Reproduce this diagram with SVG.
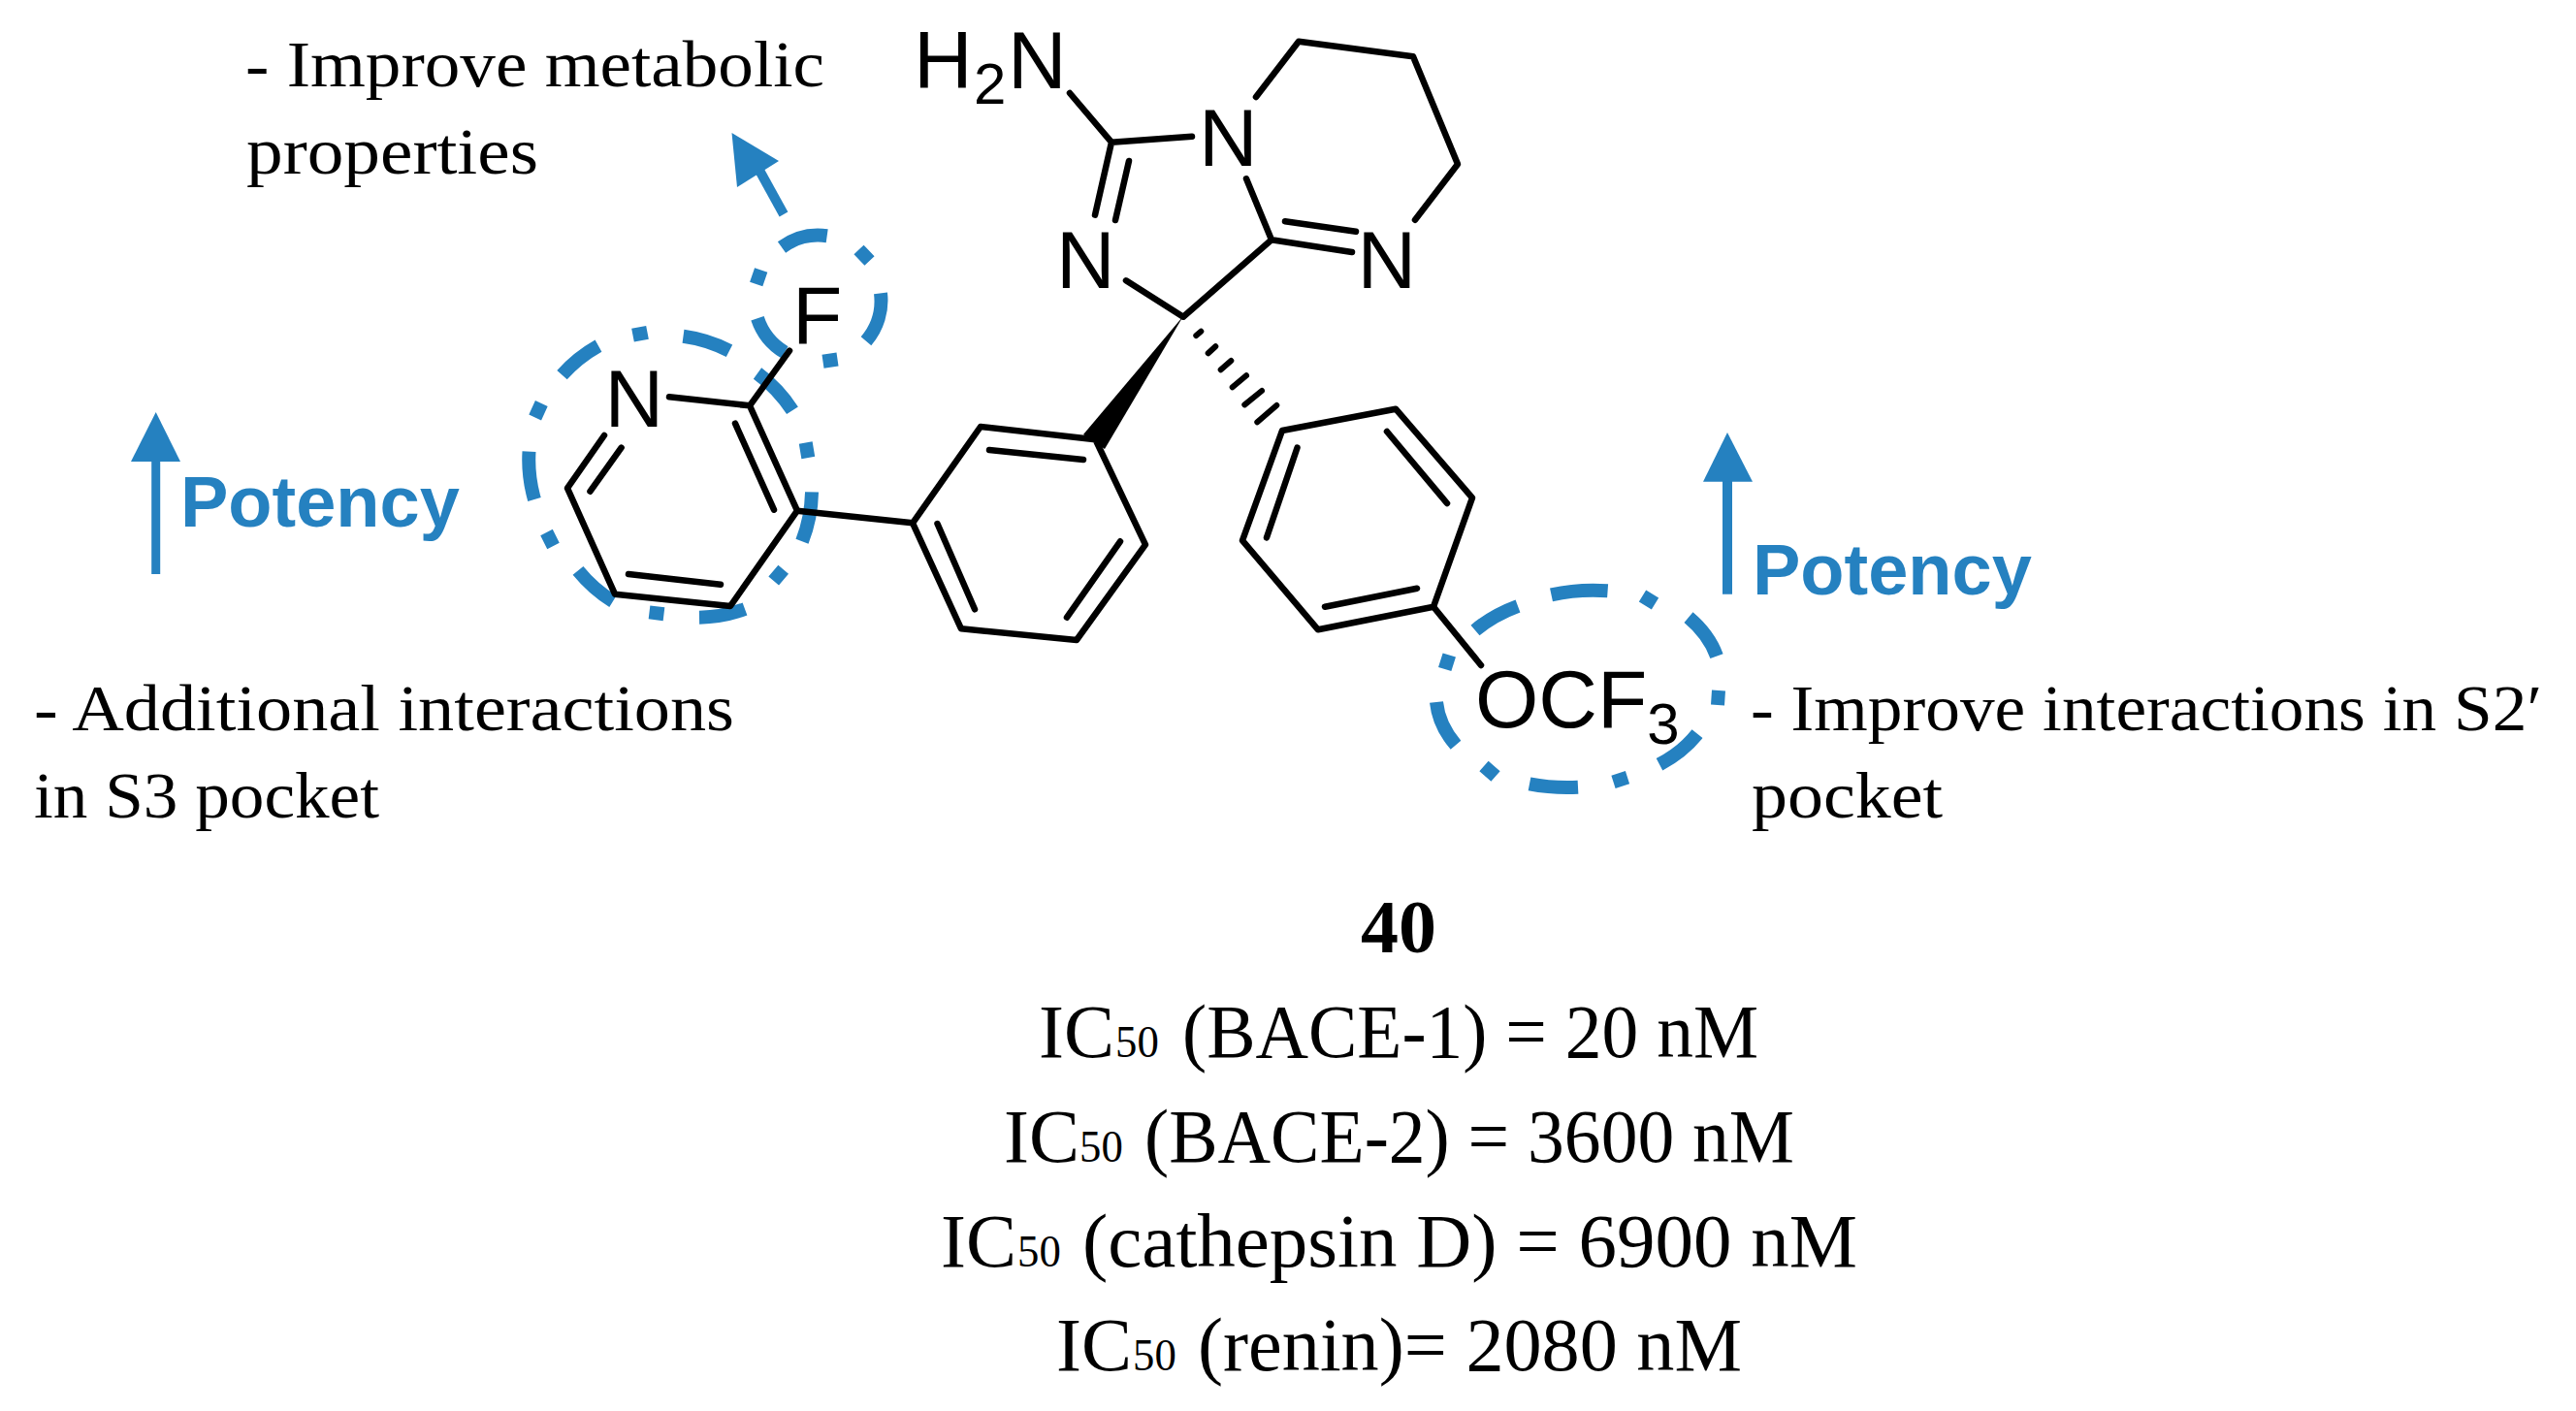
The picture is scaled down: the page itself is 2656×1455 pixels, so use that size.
<svg xmlns="http://www.w3.org/2000/svg" width="2656" height="1455" viewBox="0 0 2656 1455">
<style>
.d{fill:none;stroke:#2581c0;stroke-width:14;stroke-linecap:butt}
.b{fill:none;stroke:#000;stroke-width:6.5;stroke-linecap:round;stroke-linejoin:round}
.h{fill:none;stroke:#000;stroke-width:6;stroke-linecap:round}
.a{font-family:"Liberation Sans",Arial,sans-serif;font-size:84px;fill:#000}
.as{font-size:60px}
.s{font-family:"Liberation Serif","Times New Roman",serif;font-size:68px;fill:#000}
.m{font-family:"Liberation Serif","Times New Roman",serif;font-size:78px;fill:#000}
.m .n{font-size:46px}
.p{font-family:"Liberation Sans",Arial,sans-serif;font-size:74px;font-weight:700;fill:#2581c0}
.ar{fill:#2581c0}
.as2{stroke:#2581c0;fill:none}
</style>
<rect width="2656" height="1455" fill="#fff"/>
<g id="highlight-pyridine" class="d">
<path d="M579.5 386.7A146 146 0 0 1 617 356.7M704.5 346.7A146 146 0 0 1 752 361.7M781 385A146 146 0 0 1 817 423.3M837 507.3A146 146 0 0 1 827 558.3M768 628A146 146 0 0 1 721 636.7M632 620A146 146 0 0 1 596 588.3M551 515A146 146 0 0 1 545.5 465.7"/>
<path d="M652.5 345.7L667.5 342.8M830.7 456.5L833.3 472M807.7 587.3L797.7 599M684.5 633.2L669.5 631.4M563.5 549L570.5 563M551.7 430.5L558.3 416"/>
</g>
<g id="highlight-fluorine" class="d">
<path d="M806 255A64 64 0 0 1 852.7 243.3M908 302.3A64 64 0 0 1 893 351.7M809 363.3A64 64 0 0 1 781 328.3"/>
<path d="M885.5 257.5L896.5 269M863.5 370.5L848.5 372.7M779.7 293L784.7 278.5"/>
</g>
<g id="highlight-ocf3" class="d">
<path d="M1521 650A146 101 0 0 1 1565 625M1599.5 613.3A146 101 0 0 1 1657.6 609.3M1741 636.7A146 101 0 0 1 1770 676.7M1750 756.7A146 101 0 0 1 1711 788.3M1627 811.7A146 101 0 0 1 1577 808.3M1501 768.3A146 101 0 0 1 1481 724"/>
<path d="M1693.5 614.5L1706.5 622.5M1772 712L1771 727M1663.5 806.3L1678 801.7M1530 790L1542 800.6M1489.7 690L1494.3 675.5"/>
</g>
<g id="molecule">
<g id="bonds" class="b">
<path d="M1103 96L1146 146.7L1229 140.7M1146 146.7L1129 221.7M1164 166L1150 227"/>
<path d="M1295 100L1339 42.7L1457 58.3L1503 169.3L1459 226.7"/>
<path d="M1285 184.3L1311 247.3L1394 260M1325 228.3L1398 238.7"/>
<path d="M1311 247.3L1220 326.7L1161 289.3"/>
<path d="M1322 444L1439 421.7L1518 513.3L1478 625.7L1359 649.3L1281 557.3Z"/>
<path d="M1430 445L1492 519M1337.5 461.7L1306 554.3M1461 606.7L1366 625.7M1478 625.7L1527 686"/>
<path d="M690 409.3L773 418.3L814 361.7M773 418.3L822 526.7L753 625L634 612.7L585 503.3L623 449"/>
<path d="M758 436.7L798 525.7M648 592L743 602.7M608.5 506.7L640.6 461.7"/>
<path d="M822 526.7L941 539.3"/>
<path d="M941 539.3L1011 440L1129.5 453.3L1181 561.7L1110 660L991 648.3Z"/>
<path d="M1020 464L1117 474M1155 558.3L1100 636.7M966.5 540L1005 628.3"/>
</g>
<polygon id="wedge" points="1220,326 1117,448 1139,463" fill="#000"/>
<path id="hash" class="h" d="M1233.3 346L1238.3 341.7M1245.7 364.3L1253.3 357.3M1258.7 381.3L1269.3 372M1270.7 399.3L1285 387.3M1283.3 417.3L1301 403M1296.3 435.3L1316.3 418"/>
<g id="atoms">
<text class="a" y="91"><tspan x="942">H</tspan><tspan class="as" x="1004" y="107">2</tspan><tspan x="1039" y="91">N</tspan></text>
<text class="a" x="1236" y="171.3">N</text>
<text class="a" x="1399.6" y="296.7">N</text>
<text class="a" x="1089" y="296.7">N</text>
<text class="a" x="623.6" y="440">N</text>
<text class="a" x="817" y="354.3">F</text>
<text class="a" x="1521" y="750">OCF<tspan class="as" y="767">3</tspan></text>
</g>
</g>
<g id="arrow-fluorine">
<line class="as2" x1="808" y1="221" x2="781" y2="172" stroke-width="10"/>
<polygon class="ar" points="754.5,137 803,166 760,193"/>
</g>
<g id="arrow-left">
<line class="as2" x1="160.7" y1="592" x2="160.7" y2="470" stroke-width="9"/>
<polygon class="ar" points="160.7,425 186,476 135,476"/>
<text class="p" x="186" y="542.7">Potency</text>
</g>
<g id="arrow-right">
<line class="as2" x1="1781" y1="612.7" x2="1781" y2="490" stroke-width="10"/>
<polygon class="ar" points="1781,446 1807,496.7 1756,496.7"/>
<text class="p" x="1807" y="613">Potency</text>
</g>
<g id="notes">
<text class="s" x="253" y="88.7" textLength="597" lengthAdjust="spacingAndGlyphs">- Improve metabolic</text>
<text class="s" x="254" y="179" textLength="301" lengthAdjust="spacingAndGlyphs">properties</text>
<text class="s" x="35" y="752.7" textLength="722" lengthAdjust="spacingAndGlyphs">- Additional interactions</text>
<text class="s" x="35" y="843" textLength="356" lengthAdjust="spacingAndGlyphs">in S3 pocket</text>
<text class="s" x="1805" y="752.7" textLength="816" lengthAdjust="spacingAndGlyphs">- Improve interactions in S2′</text>
<text class="s" x="1806" y="842.7" textLength="197" lengthAdjust="spacingAndGlyphs">pocket</text>
</g>
<g id="data">
<text class="m" x="1442" y="982" text-anchor="middle" font-weight="700">40</text>
<text class="m" y="1090"><tspan x="1071">IC</tspan><tspan class="n" x="1150" textLength="56" lengthAdjust="spacingAndGlyphs">50 </tspan><tspan x="1219" textLength="594" lengthAdjust="spacingAndGlyphs">(BACE-1) = 20 nM</tspan></text>
<text class="m" y="1198"><tspan x="1035">IC</tspan><tspan class="n" x="1113" textLength="56" lengthAdjust="spacingAndGlyphs">50 </tspan><tspan x="1180" textLength="670" lengthAdjust="spacingAndGlyphs">(BACE-2) = 3600 nM</tspan></text>
<text class="m" y="1305.7"><tspan x="970">IC</tspan><tspan class="n" x="1049" textLength="56" lengthAdjust="spacingAndGlyphs">50 </tspan><tspan x="1116" textLength="799" lengthAdjust="spacingAndGlyphs">(cathepsin D) = 6900 nM</tspan></text>
<text class="m" y="1413.3"><tspan x="1089">IC</tspan><tspan class="n" x="1168" textLength="56" lengthAdjust="spacingAndGlyphs">50 </tspan><tspan x="1235" textLength="561" lengthAdjust="spacingAndGlyphs">(renin)= 2080 nM</tspan></text>
</g>
</svg>
